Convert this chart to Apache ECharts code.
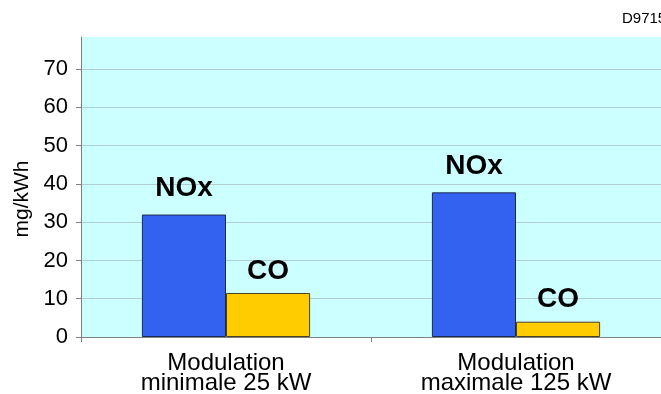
<!DOCTYPE html>
<html>
<head>
<meta charset="utf-8">
<script src="https://cdn.jsdelivr.net/npm/echarts@6/dist/echarts.min.js"></script>
<style>html,body{margin:0;padding:0;background:#fff;}#c{width:661px;height:394px;}</style>
</head>
<body>
<div id="c"></div>
<script>
var categories = ['Modulation\nminimale 25 kW', 'Modulation\nmaximale 125 kW'];
var noxValues = [32, 37.8];
var coValues = [11.5, 4];
var yTicks = [0, 10, 20, 30, 40, 50, 60, 70];
var yMax = 78.4;

var chart = echarts.init(document.getElementById('c'));
var grid = '#b0cdd0';
chart.setOption({
  animation: false,
  backgroundColor: '#ffffff',
  grid: {
    left: 81, right: 0, top: 37, bottom: 57,
    outerBoundsMode: 'none', containLabel: false,
    show: true, backgroundColor: '#ccffff', borderWidth: 0
  },
  xAxis: {
    type: 'category',
    data: categories,
    axisLine: { lineStyle: { color: '#808080', width: 1 } },
    axisTick: { show: true, length: 5, lineStyle: { color: '#808080' } },
    axisLabel: {
      color: '#000', fontFamily: 'Liberation Sans, Arial, sans-serif',
      fontSize: 24, lineHeight: 20, margin: 16
    }
  },
  yAxis: {
    type: 'value',
    min: 0, max: yMax, interval: 10,
    axisLine: { show: true, lineStyle: { color: '#808080', width: 1 } },
    axisTick: { show: true, length: 5, customValues: yTicks, lineStyle: { color: '#808080' } },
    axisLabel: {
      customValues: yTicks,
      color: '#000', fontFamily: 'Liberation Sans, Arial, sans-serif',
      fontSize: 22, margin: 13
    },
    splitLine: {
      show: true,
      lineStyle: { color: ['transparent', grid, grid, grid, grid, grid, grid, grid, 'transparent'], width: 1 }
    }
  },
  series: [
    {
      name: 'NOx', type: 'bar', data: noxValues,
      barWidth: '29%', barGap: '0%',
      itemStyle: { color: '#3462f0', borderColor: '#1a2a50', borderWidth: 1 },
      label: {
        show: true, position: 'top', distance: 12, formatter: '{a}',
        color: '#000', fontFamily: 'Liberation Sans, Arial, sans-serif', fontWeight: 'bold', fontSize: 28
      }
    },
    {
      name: 'CO', type: 'bar', data: coValues,
      barWidth: '29%', barGap: '0%',
      itemStyle: { color: '#ffcc00', borderColor: '#4a4020', borderWidth: 1 },
      label: {
        show: true, position: 'top', distance: 8, formatter: '{a}',
        color: '#000', fontFamily: 'Liberation Sans, Arial, sans-serif', fontWeight: 'bold', fontSize: 28
      }
    }
  ],
  graphic: [
    {
      type: 'text', x: 22, y: 199, rotation: Math.PI / 2,
      style: {
        text: 'mg/kWh', fill: '#000', fontSize: 21,
        fontFamily: 'Liberation Sans, Arial, sans-serif',
        align: 'center', verticalAlign: 'middle'
      }
    },
    {
      type: 'text', x: 622, y: 11,
      style: {
        text: 'D9715', fill: '#000', fontSize: 15,
        fontFamily: 'Liberation Sans, Arial, sans-serif',
        align: 'left', verticalAlign: 'top'
      }
    }
  ]
});
</script>
</body>
</html>
